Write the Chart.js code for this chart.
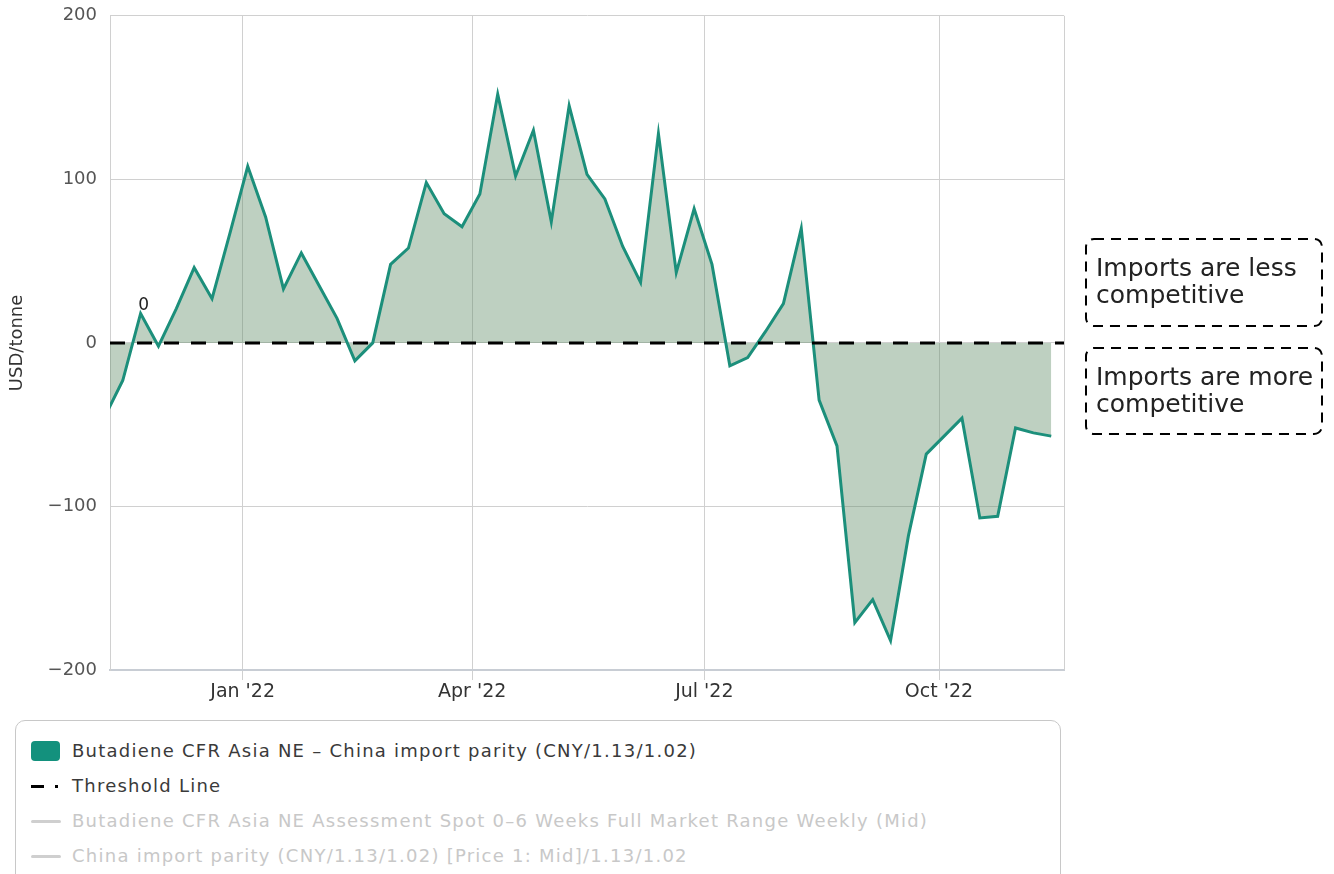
<!DOCTYPE html>
<html lang="en">
<head>
<meta charset="UTF-8">
<script src="https://cdn.jsdelivr.net/npm/chart.js"></script>
<title>Butadiene CFR Asia NE - China import parity</title>
<style>
  body { margin: 0; background: #fff; font-family: "DejaVu Sans", sans-serif; }
  #wrap { position: relative; width: 1334px; height: 874px; overflow: hidden; }
  #chartBox { position: absolute; left: 0; top: -8px; width: 1334px; height: 720px; }
  #legend { position: absolute; left: 15px; top: 720px; width: 1046px; height: 170px;
            border: 1px solid #c8c8c8; border-radius: 10px; box-sizing: border-box; padding-top: 12px; }
  .item { display: flex; align-items: center; height: 35px; font-size: 18px; letter-spacing: 1.25px; color: #3a3a3a; white-space: nowrap; }
  .item.off { color: #c8c8c8; }
  .icon { width: 30px; margin-left: 15px; margin-right: 11px; position: relative; height: 20px; }
  .sq { position: absolute; left: 0; top: 0; width: 29px; height: 20px; border-radius: 4px; }
  .dash { position: absolute; left: 0; top: 9px; width: 13px; height: 3px; background: #000; }
  .dot { position: absolute; left: 24px; top: 9px; width: 3px; height: 3px; background: #000; }
  .ln { position: absolute; left: 0; top: 9px; width: 30px; height: 3px; background: #cfcfcf; border-radius: 2px; }
</style>
</head>
<body>
<div id="wrap">
  <div id="chartBox"><canvas id="parityChart"></canvas></div>
  <div id="legend"></div>
</div>
<script>
// weekly assessment dates and spread values (USD/tonne)
const dates = [
  '2021-11-08','2021-11-15','2021-11-22','2021-11-29','2021-12-06','2021-12-13','2021-12-20','2021-12-27',
  '2022-01-03','2022-01-10','2022-01-17','2022-01-24','2022-01-31','2022-02-07','2022-02-14','2022-02-21',
  '2022-02-28','2022-03-07','2022-03-14','2022-03-21','2022-03-28','2022-04-04','2022-04-11','2022-04-18',
  '2022-04-25','2022-05-02','2022-05-09','2022-05-16','2022-05-23','2022-05-30','2022-06-06','2022-06-13',
  '2022-06-20','2022-06-27','2022-07-04','2022-07-11','2022-07-18','2022-07-25','2022-08-01','2022-08-08',
  '2022-08-15','2022-08-22','2022-08-29','2022-09-05','2022-09-12','2022-09-19','2022-09-26','2022-10-03',
  '2022-10-10','2022-10-17','2022-10-24','2022-10-31','2022-11-07','2022-11-14'
];
const spread = [
  -45, -23, 18, -2, 21, 46, 27, 67,
  108, 77, 33, 55, 35, 15, -11, 0,
  48, 58, 98, 79, 71, 91, 152, 102,
  130, 74, 145, 103, 88, 59, 37, 128,
  43, 82, 48, -14, -9, 7, 24, 70,
  -35, -63, -171, -157, -182, -118, -68, -57,
  -46, -107, -106, -52, -55, -57
];
const threshold = 0;
const axisStart = '2021-11-10';
const axisEnd = '2022-11-19';
const tickDates = ['2022-01-01', '2022-04-01', '2022-07-01', '2022-10-01'];
const tickLabels = ["Jan '22", "Apr '22", "Jul '22", "Oct '22"];
const seriesName = 'Butadiene CFR Asia NE \u2013 China import parity (CNY/1.13/1.02)';
const thresholdName = 'Threshold Line';
const hiddenNames = [
  'Butadiene CFR Asia NE Assessment Spot 0\u20136 Weeks Full Market Range Weekly (Mid)',
  'China import parity (CNY/1.13/1.02) [Price 1: Mid]/1.13/1.02'
];
const notes = [
  ['Imports are less', 'competitive'],
  ['Imports are more', 'competitive']
];

const day = s => Date.parse(s + 'T00:00:00Z') / 86400000;
const xMin = day(axisStart), xMax = day(axisEnd);
const tickDays = tickDates.map(day);
const shift = 8; // canvas sits 8px above the page top

// dashed note boxes to the right of the plot, plus the stray "0" label
const notesPlugin = {
  id: 'notes',
  afterDraw(chart) {
    const ctx = chart.ctx;
    const a = chart.chartArea;
    ctx.save();
    // plot border on the right
    ctx.strokeStyle = '#d0d0d0';
    ctx.lineWidth = 1;
    ctx.beginPath();
    ctx.moveTo(a.right + 0.5, a.top);
    ctx.lineTo(a.right + 0.5, a.bottom);
    ctx.stroke();

    const boxes = [{ y: 239, h: 87 }, { y: 348, h: 86 }];
    ctx.font = '25px "DejaVu Sans"';
    ctx.textBaseline = 'middle';
    ctx.fillStyle = '#222';
    boxes.forEach((b, i) => {
      const y = b.y + shift;
      ctx.setLineDash([10, 7]);
      ctx.lineWidth = 2;
      ctx.strokeStyle = '#000';
      ctx.beginPath();
      ctx.roundRect(1086, y, 236, b.h, 8);
      ctx.stroke();
      ctx.fillText(notes[i][0], 1096, y + 30);
      ctx.fillText(notes[i][1], 1096, y + 57);
    });

    const pt = chart.getDatasetMeta(1).data[2];
    ctx.font = '17px "DejaVu Sans"';
    ctx.textAlign = 'center';
    ctx.fillText('0', pt.x + 3, pt.y - 8);
    ctx.restore();
  }
};

new Chart(document.getElementById('parityChart'), {
  type: 'line',
  data: {
    datasets: [
      {
        label: thresholdName,
        data: [{ x: xMin, y: threshold }, { x: xMax, y: threshold }],
        borderColor: '#000',
        borderWidth: 3,
        borderDash: [15, 12],
        pointRadius: 0,
        fill: false,
        order: 0
      },
      {
        label: seriesName,
        data: dates.map((d, i) => ({ x: day(d), y: spread[i] })),
        borderColor: '#1c8f7b',
        backgroundColor: 'rgba(92,137,100,0.4)',
        borderWidth: 3,
        pointRadius: 0,
        tension: 0,
        fill: 'origin',
        order: 1
      }
    ]
  },
  options: {
    responsive: true,
    maintainAspectRatio: false,
    animation: false,
    layout: { padding: { left: 0, right: 270, top: 4, bottom: 0 } },
    plugins: { legend: { display: false }, tooltip: { enabled: false } },
    scales: {
      x: {
        type: 'linear',
        min: xMin,
        max: xMax,
        afterBuildTicks: s => { s.ticks = tickDays.map(v => ({ value: v })); },
        afterFit: s => { s.height = 42; },
        ticks: {
          autoSkip: false,
          maxRotation: 0,
          padding: 1,
          color: '#333',
          font: { family: 'DejaVu Sans', size: 19 },
          callback: (v, i) => tickLabels[i]
        },
        grid: { color: '#d0d0d0', tickLength: 10 },
        border: { color: '#c8cdd4', width: 2 }
      },
      y: {
        min: -200,
        max: 200,
        afterFit: s => { s.width = 110; },
        ticks: {
          stepSize: 100,
          padding: 13,
          color: '#555',
          font: { family: 'DejaVu Sans', size: 18 },
          callback: v => (v < 0 ? '\u2212' + Math.abs(v) : String(v))
        },
        grid: { color: '#d0d0d0', drawTicks: false },
        border: { color: '#d0d0d0' },
        title: {
          display: true,
          text: 'USD/tonne',
          color: '#333',
          font: { family: 'DejaVu Sans', size: 18 },
          padding: { top: 7 }
        }
      }
    }
  },
  plugins: [notesPlugin]
});

// html legend
const legend = document.getElementById('legend');
const rows = [
  { name: seriesName, icon: '<div class="sq" style="background:#13917d"></div>' },
  { name: thresholdName, icon: '<div class="dash"></div><div class="dot"></div>' }
].concat(hiddenNames.map(n => ({ name: n, icon: '<div class="ln"></div>', off: true })));
rows.forEach(r => {
  const el = document.createElement('div');
  el.className = 'item' + (r.off ? ' off' : '');
  el.innerHTML = '<div class="icon">' + r.icon + '</div><span>' + r.name + '</span>';
  legend.appendChild(el);
});
</script>
</body>
</html>
